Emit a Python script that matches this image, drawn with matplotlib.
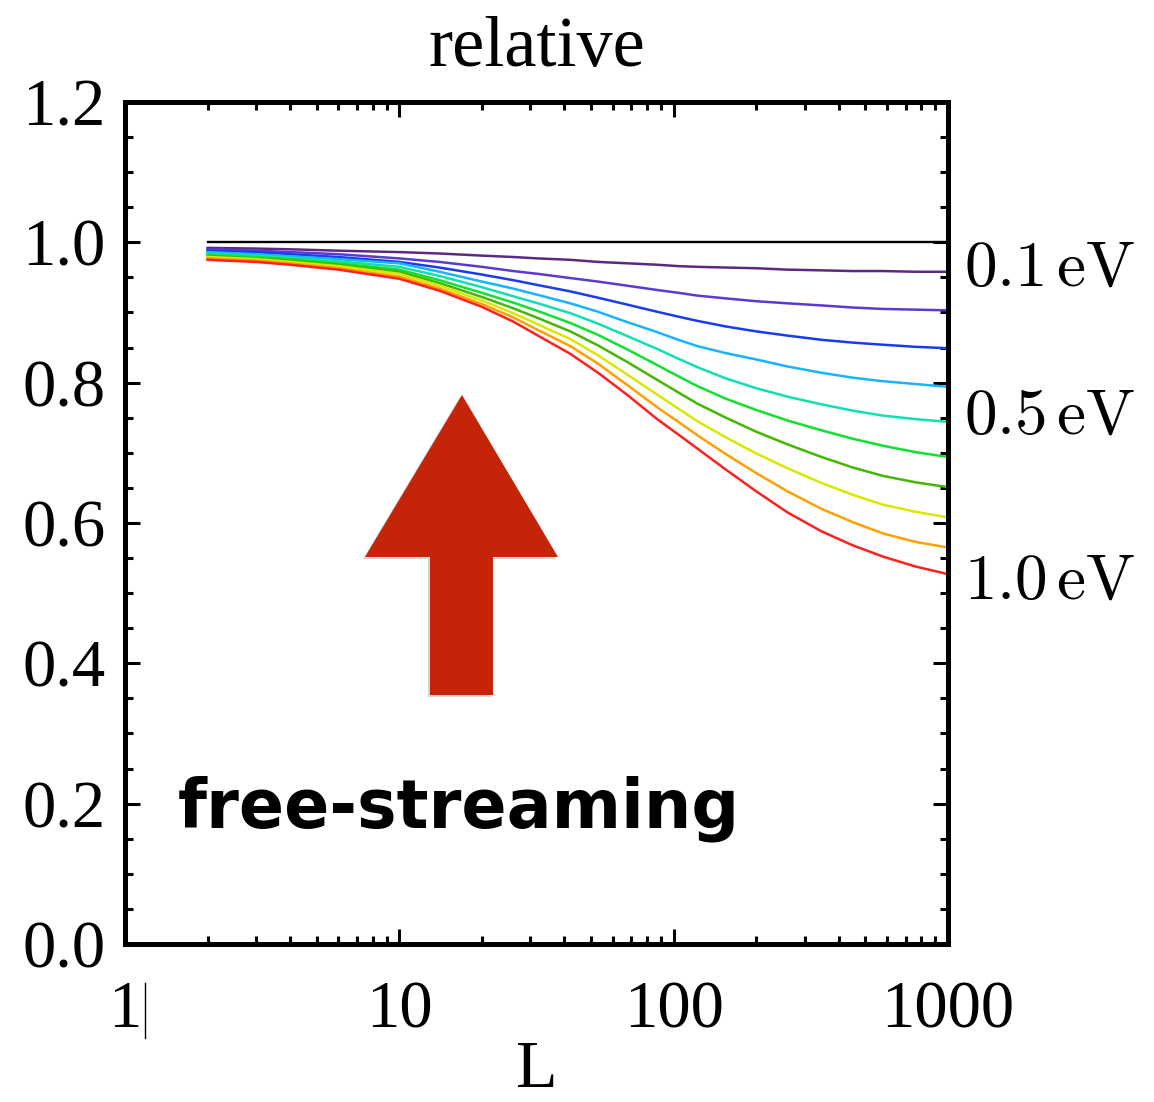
import numpy as np
import matplotlib
matplotlib.use("Agg")
import matplotlib.pyplot as plt
from matplotlib.patches import Polygon
from matplotlib.lines import Line2D
import matplotlib.patheffects as pe

plt.rcParams['mathtext.fontset'] = 'cm'
plt.rcParams['font.family'] = ['Liberation Serif', 'DejaVu Serif']

# multipoles where the curves are sampled
L = [2, 3, 4, 6, 10, 14, 20, 26, 32, 42, 53, 68, 87, 104, 122, 155, 200, 260, 346, 450, 580, 760, 1000]

# ratio to the massless case, one row per neutrino mass (0.1 ... 1.0 eV)
masses = [0.1, 0.2, 0.3, 0.4, 0.5, 0.6, 0.7, 0.8, 0.9, 1.0]
r01 = [0.992, 0.991, 0.990, 0.988, 0.986, 0.984, 0.981, 0.979, 0.977, 0.975, 0.972, 0.970,
       0.968, 0.966, 0.965, 0.964, 0.963, 0.961, 0.960, 0.959, 0.959, 0.958, 0.958]
r02 = [0.990, 0.988, 0.986, 0.983, 0.977, 0.972, 0.965, 0.959, 0.955, 0.949, 0.944, 0.938,
       0.932, 0.928, 0.924, 0.920, 0.916, 0.913, 0.910, 0.907, 0.905, 0.904, 0.903]
r03 = [0.988, 0.986, 0.983, 0.979, 0.972, 0.964, 0.954, 0.946, 0.939, 0.930, 0.921, 0.911,
       0.901, 0.894, 0.888, 0.880, 0.873, 0.867, 0.861, 0.857, 0.854, 0.851, 0.849]
r04 = [0.986, 0.983, 0.980, 0.976, 0.970, 0.958, 0.944, 0.934, 0.925, 0.913, 0.901, 0.886,
       0.872, 0.861, 0.852, 0.842, 0.833, 0.823, 0.814, 0.807, 0.802, 0.798, 0.794]
r05 = [0.984, 0.981, 0.978, 0.973, 0.965, 0.952, 0.936, 0.923, 0.913, 0.899, 0.884, 0.866,
       0.848, 0.834, 0.822, 0.806, 0.792, 0.780, 0.769, 0.760, 0.753, 0.748, 0.744]
r06 = [0.982, 0.979, 0.976, 0.970, 0.961, 0.946, 0.928, 0.914, 0.902, 0.885, 0.868, 0.847,
       0.825, 0.809, 0.795, 0.777, 0.761, 0.746, 0.732, 0.720, 0.710, 0.701, 0.694]
r07 = [0.980, 0.977, 0.974, 0.968, 0.958, 0.942, 0.922, 0.906, 0.892, 0.873, 0.853, 0.829,
       0.804, 0.786, 0.770, 0.750, 0.730, 0.712, 0.694, 0.679, 0.667, 0.658, 0.651]
r08 = [0.979, 0.976, 0.972, 0.966, 0.955, 0.938, 0.917, 0.899, 0.883, 0.862, 0.839, 0.811,
       0.783, 0.763, 0.745, 0.722, 0.699, 0.678, 0.657, 0.640, 0.626, 0.616, 0.608]
r09 = [0.977, 0.974, 0.970, 0.963, 0.951, 0.934, 0.912, 0.893, 0.875, 0.852, 0.827, 0.796,
       0.765, 0.744, 0.725, 0.698, 0.671, 0.645, 0.620, 0.601, 0.585, 0.573, 0.565]
r10 = [0.975, 0.972, 0.968, 0.961, 0.948, 0.931, 0.908, 0.887, 0.867, 0.841, 0.814, 0.782,
       0.748, 0.726, 0.706, 0.676, 0.645, 0.615, 0.588, 0.568, 0.552, 0.538, 0.527]
ratio = [r01, r02, r03, r04, r05, r06, r07, r08, r09, r10]
massless = [1.0] * len(L)

colors = ['#5a2a82', '#5a3ad0', '#1a3cf0', '#18b4ff', '#10e0b0',
          '#10e030', '#44b800', '#d8e800', '#ffa000', '#ff2020']

mass_labels = {0: r'$0.1\,\mathrm{eV}$', 4: r'$0.5\,\mathrm{eV}$', 9: r'$1.0\,\mathrm{eV}$'}
label_y = {0: 0.960, 4: 0.749, 9: 0.515}

fig = plt.figure(figsize=(11.54, 11.02), dpi=100)
ax = fig.add_axes([0.1083, 0.1434, 0.7132, 0.7641])

ax.plot(L, massless, color='black', lw=1.7)
for i, row in enumerate(ratio):
    ax.plot(L, row, color=colors[i], lw=1.8)

ax.set_xscale('log')
ax.set_xlim(1, 1000)
ax.set_ylim(0, 1.2)
ax.set_xticks([1, 10, 100, 1000])
ax.set_xticklabels(['1', '10', '100', '1000'])
ax.set_yticks(np.arange(0, 1.21, 0.2))
ax.set_yticklabels(['0.0', '0.2', '0.4', '0.6', '0.8', '1.0', '1.2'])
ax.yaxis.set_minor_locator(matplotlib.ticker.MultipleLocator(0.05))
ax.xaxis.set_minor_locator(matplotlib.ticker.LogLocator(subs=np.arange(2, 10)))
ax.xaxis.set_minor_formatter(matplotlib.ticker.NullFormatter())

for s in ax.spines.values():
    s.set_linewidth(3.6)
ax.tick_params(which='both', direction='in', top=True, right=True, width=2.2)
ax.tick_params(which='major', length=11, labelsize=48)
ax.tick_params(which='minor', length=6)
ax.tick_params(axis='x', pad=26)
ax.tick_params(axis='y', pad=14)

ax.set_title('relative', fontsize=52, pad=26)
ax.set_xlabel('L', fontsize=49, labelpad=-1)

for i, txt in mass_labels.items():
    ax.text(1.02, label_y[i], txt, transform=ax.get_yaxis_transform(),
            fontsize=47, va='center', ha='left')

# big arrow pointing up
arrow_pts = [(0.4095, 0.652), (0.5261, 0.4596), (0.4471, 0.4596), (0.4471, 0.2957),
             (0.3706, 0.2957), (0.3706, 0.4596), (0.2916, 0.4596)]
arrow = Polygon(arrow_pts, closed=True, transform=ax.transAxes,
                facecolor='#c42408', edgecolor='none', zorder=3)
arrow.set_path_effects([pe.SimplePatchShadow(offset=(-1.5, -1.5), alpha=0.18), pe.Normal()])
ax.add_patch(arrow)

ax.text(0.0644, 0.1378, 'free-streaming', transform=ax.transAxes,
        fontsize=48, fontweight='bold', family='DejaVu Sans', va='baseline', ha='left')

# stray cursor bar next to the "1" tick label
fig.add_artist(Line2D([0.1256, 0.1256], [0.058, 0.108], color='black', lw=1.0))

fig.savefig('out.png', dpi=100)
